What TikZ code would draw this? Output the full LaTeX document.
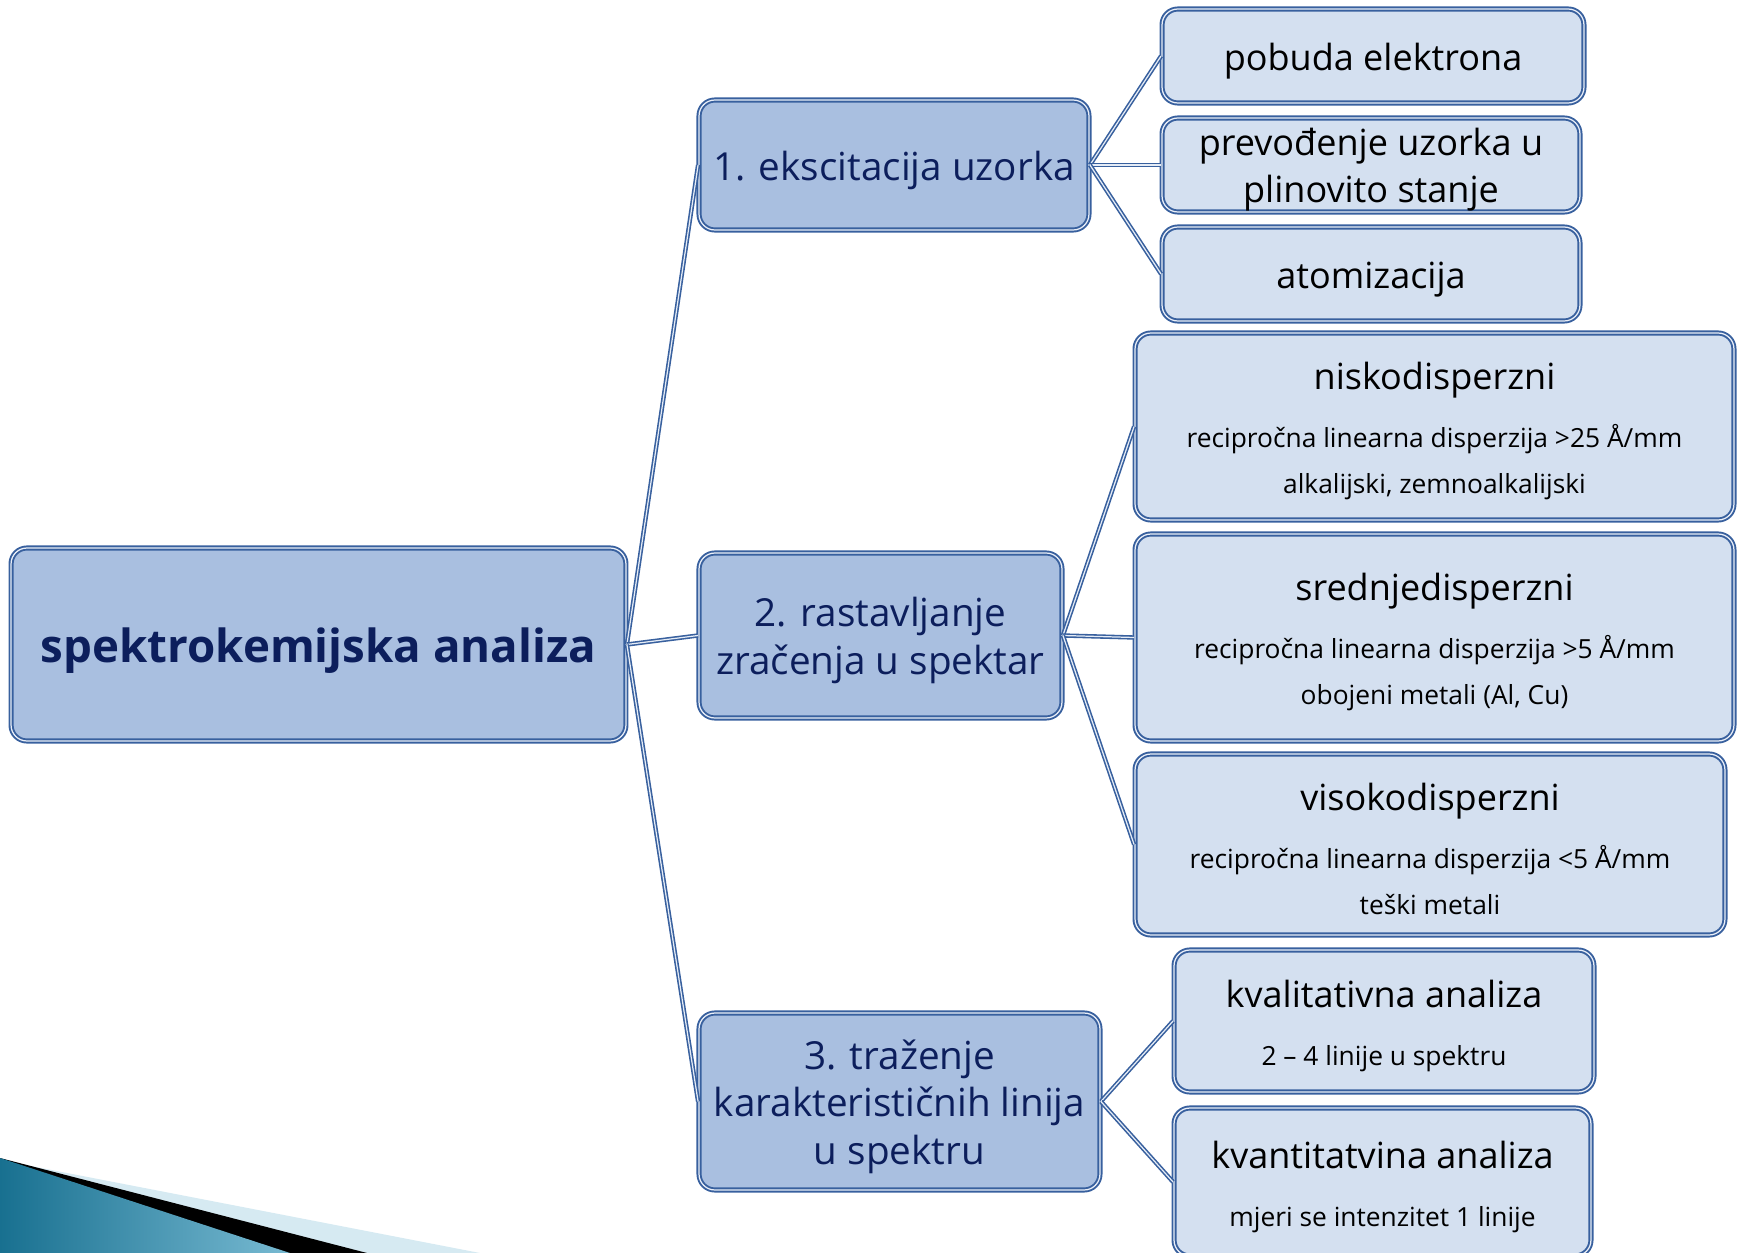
\documentclass[tikz,border=0pt]{standalone}
\usepackage{fontspec}
\setmainfont{Open Sans}
\usetikzlibrary{positioning}
\definecolor{edge}{RGB}{56,96,158}
\definecolor{mainfill}{RGB}{169,191,224}
\definecolor{leaffill}{RGB}{212,224,240}
\definecolor{navy}{RGB}{12,30,92}
\definecolor{swoosh}{RGB}{30,140,180}
\definecolor{swooshlight}{RGB}{214,234,242}
\newcommand{\lift}{\rule{0pt}{1.02em}}
\newcommand{\headtext}[1]{{\fontsize{20.5}{26}\selectfont\lift #1}}

\begin{document}
\begin{tikzpicture}[
  x=0.02cm, y=-0.02cm,
  box/.style={draw=edge, line width=1.1pt, double=leaffill!50!white, double distance=0.7pt,
    rounded corners=9pt, align=center, inner sep=0pt},
  main/.style={box, fill=mainfill, text=navy, font=\fontsize{22}{27}\selectfont},
  leaf/.style={box, fill=leaffill, text=black, font=\fontsize{20.5}{26.6}\selectfont},
  note/.style={box, fill=leaffill, text=black, font=\fontsize{15}{26}\selectfont},
  link/.style={draw=edge, line width=0.9pt, double=leaffill!60!white, double distance=0.7pt}
]
\useasboundingbox (0,0) rectangle (1742,1253);
\fill[swooshlight] (0,1160) -- (480,1253) -- (0,1253) -- cycle;
\fill[black] (0,1158) -- (367,1253) -- (0,1253) -- cycle;
\shade[left color=swoosh!80!black, right color=swoosh!60!white] (0,1158) -- (290,1253) -- (0,1253) -- cycle;

\node[main, minimum width=12.3cm, minimum height=3.86cm, font=\fontsize{26}{32}\bfseries]
  (root) at (318.5,644.5) {\lift spektrokemijska analiza};

\node[main, minimum width=7.8cm, minimum height=2.6cm] (exc) at (894,165) {\lift 1. ekscitacija uzorka};
\node[main, minimum width=7.26cm, minimum height=3.3cm] (ras) at (880.5,635.5) {\lift 2. rastavljanje\\zračenja u spektar};
\node[main, minimum width=8.02cm, minimum height=3.54cm] (tra) at (899.5,1101.5) {\lift 3. traženje\\karakterističnih linija\\u spektru};

\node[leaf, minimum width=8.44cm, minimum height=1.88cm] (pob) at (1373,56) {\lift pobuda elektrona};
\node[leaf, minimum width=8.36cm, minimum height=1.88cm] (pre) at (1371,165) {\lift prevođenje uzorka u\\plinovito stanje};
\node[leaf, minimum width=8.36cm, minimum height=1.88cm] (ato) at (1371,274) {\lift atomizacija};

\node[note, minimum width=11.98cm, minimum height=3.74cm] (nis) at (1434.5,426.5)
  {\headtext{niskodisperzni}\\[7pt]recipročna linearna disperzija >25 Å/mm\\alkalijski, zemnoalkalijski};
\node[note, minimum width=11.98cm, minimum height=4.14cm] (sre) at (1434.5,637.5)
  {\headtext{srednjedisperzni}\\[7pt]recipročna linearna disperzija >5 Å/mm\\obojeni metali (Al, Cu)};
\node[note, minimum width=11.8cm, minimum height=3.62cm] (vis) at (1430,844.5)
  {\headtext{visokodisperzni}\\[7pt]recipročna linearna disperzija <5 Å/mm\\teški metali};

\node[note, minimum width=8.4cm, minimum height=2.84cm] (kval) at (1384,1021)
  {\headtext{kvalitativna analiza}\\[7pt]2 – 4 linije u spektru};
\node[note, minimum width=8.34cm, minimum height=2.96cm] (kvan) at (1382.5,1182)
  {\headtext{kvantitatvina analiza}\\[7pt]mjeri se intenzitet 1 linije};

\draw[link] (root.east) -- (exc.west);
\draw[link] (root.east) -- (ras.west);
\draw[link] (root.east) -- (tra.west);
\draw[link] (exc.east) -- (pob.west);
\draw[link] (exc.east) -- (pre.west);
\draw[link] (exc.east) -- (ato.west);
\draw[link] (ras.east) -- (nis.west);
\draw[link] (ras.east) -- (sre.west);
\draw[link] (ras.east) -- (vis.west);
\draw[link] (tra.east) -- (kval.west);
\draw[link] (tra.east) -- (kvan.west);
\end{tikzpicture}
\end{document}
